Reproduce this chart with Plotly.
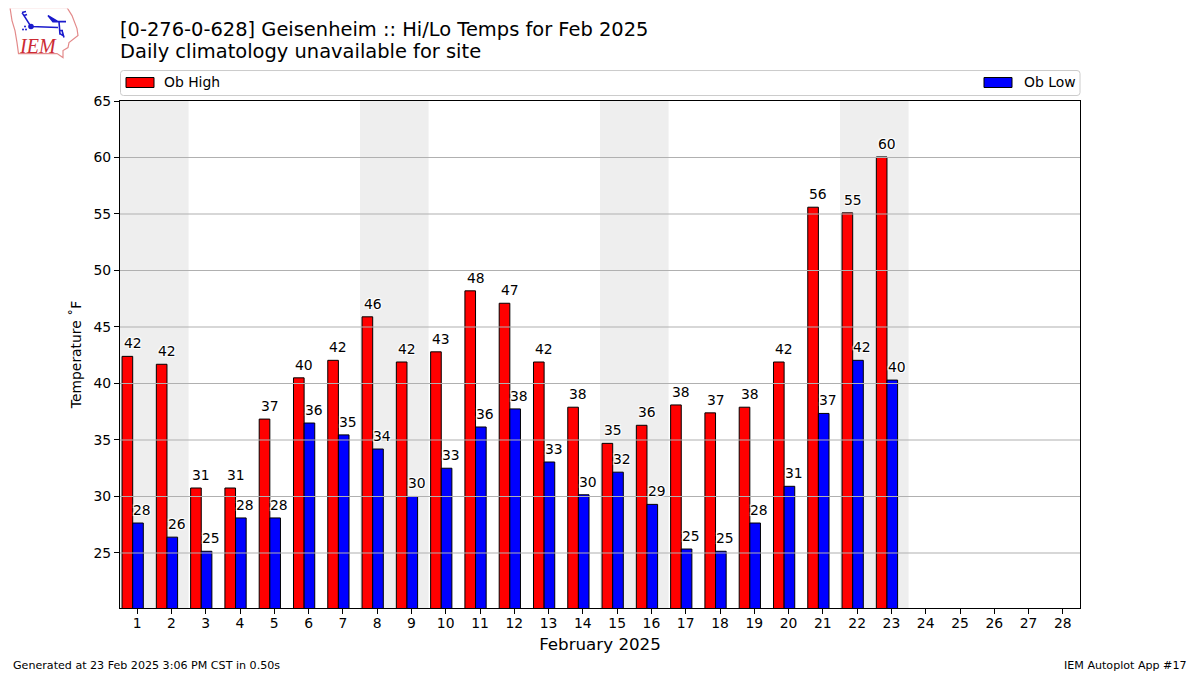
import base64
import plotly.graph_objects as go

days = list(range(1, 24))
all_days = list(range(1, 29))
highs = [42.4, 41.7, 30.75, 30.75, 36.85, 40.5, 42.05, 45.9, 41.9, 42.8, 48.2, 47.1, 41.9, 37.9, 34.7, 36.3, 38.1, 37.4, 37.9, 41.9, 55.6, 55.1, 60.05]
lows = [27.65, 26.4, 25.15, 28.1, 28.1, 36.5, 35.45, 34.2, 30.0, 32.5, 36.15, 37.75, 33.05, 30.15, 32.15, 29.3, 25.35, 25.15, 27.65, 30.9, 37.35, 42.05, 40.3]
high_labels = [42, 42, 31, 31, 37, 40, 42, 46, 42, 43, 48, 47, 42, 38, 35, 36, 38, 37, 38, 42, 56, 55, 60]
low_labels = [28, 26, 25, 28, 28, 36, 35, 34, 30, 33, 36, 38, 33, 30, 32, 29, 25, 25, 28, 31, 37, 42, 40]
weekends = [(1, 2), (8, 9), (15, 16), (22, 23)]
y_ticks = [25, 30, 35, 40, 45, 50, 55, 60, 65]

# The page body keeps its 8 px margin, so the figure is placed to reach the window's edges from inside it.
OFF = 8
W, H = 1200 - OFF, 675 - OFF
L, R, T, B = 120, 1080, 100.5, 608  # plot area in window pixels
PW, PH = R - L, B - T
FONT = "DejaVu Sans"


def px(x):
    return (x - L) / PW


def py(y):
    return (B - y) / PH


def rounded_box(x0, y0, x1, y1, r):
    return (f"M {px(x0 + r)} {py(y0)} L {px(x1 - r)} {py(y0)} Q {px(x1)} {py(y0)} {px(x1)} {py(y0 + r)} "
            f"L {px(x1)} {py(y1 - r)} Q {px(x1)} {py(y1)} {px(x1 - r)} {py(y1)} "
            f"L {px(x0 + r)} {py(y1)} Q {px(x0)} {py(y1)} {px(x0)} {py(y1 - r)} "
            f"L {px(x0)} {py(y0 + r)} Q {px(x0)} {py(y0)} {px(x0 + r)} {py(y0)} Z")


fig = go.Figure()
fig.add_bar(x=days, y=highs, name="Ob High", width=0.31, offset=-0.44, showlegend=False,
            marker=dict(color="#ff0000", line=dict(color="#000000", width=1)))
fig.add_bar(x=days, y=lows, name="Ob Low", width=0.31, offset=-0.13, showlegend=False,
            marker=dict(color="#0000ff", line=dict(color="#000000", width=1)))

shapes = []
for a, b in weekends:
    shapes.append(dict(type="rect", xref="x", yref="paper", x0=a - 0.5, x1=b + 0.5, y0=0, y1=1,
                       fillcolor="#eeeeee", line_width=0, layer="below"))
for t in y_ticks:
    if t < 65:
        shapes.append(dict(type="line", xref="paper", yref="y", x0=0, x1=1, y0=t, y1=t,
                           line=dict(color="#b0b0b0", width=1.1), layer="above"))

# legend frame and swatches
shapes.append(dict(type="path", xref="paper", yref="paper", path=rounded_box(120.5, 70, 1080, 95, 3),
                   line=dict(color="#cccccc", width=1), fillcolor="#ffffff", layer="above"))
for x0, c in [(126, "#ff0000"), (984, "#0000ff")]:
    shapes.append(dict(type="rect", xref="paper", yref="paper", x0=px(x0), x1=px(x0 + 28), y0=py(77), y1=py(87),
                       line=dict(color="#000000", width=1), fillcolor=c, layer="above"))

halo = "-1px -1px 1px #fff, 1px -1px 1px #fff, -1px 1px 1px #fff, 1px 1px 1px #fff"
annotations = []
for d, v, s in zip(days, highs, high_labels):
    annotations.append(dict(x=d - 0.13, y=v, xref="x", yref="y", text=str(s), showarrow=False,
                            yanchor="bottom", xanchor="center", yshift=3,
                            font=dict(family=FONT, size=13.9, color="#000", shadow=halo)))
for d, v, s in zip(days, lows, low_labels):
    annotations.append(dict(x=d + 0.15, y=v, xref="x", yref="y", text=str(s), showarrow=False,
                            yanchor="bottom", xanchor="center", yshift=3,
                            font=dict(family=FONT, size=13.9, color="#000", shadow=halo)))
annotations += [
    dict(xref="paper", yref="paper", x=px(120), y=py(51), text="Daily climatology unavailable for site",
         showarrow=False, xanchor="left", yanchor="middle", xshift=-2, font=dict(family=FONT, size=19.45, color="#000")),
    dict(xref="paper", yref="paper", x=px(12), y=py(666), text="Generated at 23 Feb 2025 3:06 PM CST in 0.50s",
         showarrow=False, xanchor="left", yanchor="middle", xshift=-1, font=dict(family=FONT, size=11.1, color="#000")),
    dict(xref="paper", yref="paper", x=px(1188), y=py(666), text="IEM Autoplot App #17",
         showarrow=False, xanchor="right", yanchor="middle", xshift=1, font=dict(family=FONT, size=11.1, color="#000")),
    dict(xref="paper", yref="paper", x=px(37.5), y=py(45), text="<i>IEM</i>", showarrow=False,
         xanchor="center", yanchor="middle", font=dict(family="Liberation Serif", size=20, color="#cc2a33")),
    dict(xref="paper", yref="paper", x=px(164), y=py(81), text="Ob High", showarrow=False,
         xanchor="left", yanchor="middle", xshift=-2, font=dict(family=FONT, size=13.9, color="#000")),
    dict(xref="paper", yref="paper", x=px(1024), y=py(81), text="Ob Low", showarrow=False,
         xanchor="left", yanchor="middle", xshift=-2, font=dict(family=FONT, size=13.9, color="#000")),
]

svg = """<svg xmlns="http://www.w3.org/2000/svg" width="82" height="57" viewBox="8 8 82 57">
<path d="M10 7 L67 7 L72 15 L77 28 L78 35 L69 42 L68 47 L63 50 L63 57 L57 53 L18.5 53 L17 42 L15 30 L12 20 Z" fill="none" stroke="#e38b8b" stroke-width="1.2"/>
<path d="M31 26 L58 27 M31 26 L24 15 M24 15 L22 12 M22 12 L26 11 M24 15 L27 14 M58 21 L66 21 M48 15 L58 21 L53 21 Z M59 21 L60 34 M60 30 L63 30 M60 33 L63 35 M62 30 L64 37" fill="#1a1acc" stroke="#1a1acc" stroke-width="1.6"/>
<circle cx="31" cy="26" r="2.8" fill="#1a1acc"/><circle cx="25" cy="26" r="1" fill="#1a1acc"/><circle cx="23" cy="29" r="1" fill="#1a1acc"/><circle cx="26" cy="29" r="1" fill="#1a1acc"/>
</svg>"""
logo = "data:image/svg+xml;base64," + base64.b64encode(svg.encode()).decode()

fig.update_layout(
    width=W, height=H, autosize=False,
    margin=dict(l=L - OFF, r=W + OFF - R, t=T - OFF, b=H + OFF - B, pad=0),
    paper_bgcolor="#ffffff", plot_bgcolor="#ffffff",
    font=dict(family=FONT, size=13.9, color="#000"),
    barmode="overlay",
    showlegend=False,
    title=dict(text="[0-276-0-628] Geisenheim :: Hi/Lo Temps for Feb 2025", xref="paper", yref="container",
               x=0, xanchor="left", y=1 - (29 - OFF) / H, yanchor="middle", font=dict(family=FONT, size=19.45, color="#000")),
    xaxis=dict(range=[0.5, 28.5], tickmode="array", tickvals=all_days, ticktext=[str(d) for d in all_days],
               ticks="outside", ticklen=5, tickwidth=1.1, tickcolor="#000", showline=True, linecolor="#000",
               linewidth=1.1, mirror=True, showgrid=False, zeroline=False, ticklabelstandoff=-3,
               title=dict(text="February 2025", font=dict(family=FONT, size=16.7), standoff=8)),
    yaxis=dict(range=[20.13, 65], tickmode="array", tickvals=y_ticks, ticktext=[str(t) for t in y_ticks],
               ticks="outside", ticklen=5, tickwidth=1.1, tickcolor="#000", showline=True, linecolor="#000",
               linewidth=1.1, mirror=True, showgrid=False, zeroline=False,
               title=dict(text="Temperature ˚F", font=dict(family=FONT, size=13.9), standoff=8)),
    shapes=shapes,
    annotations=annotations,
    images=[dict(source=logo, xref="paper", yref="paper", x=px(OFF), y=py(OFF), sizex=82 / PW, sizey=57 / PH,
                 xanchor="left", yanchor="top", layer="above", sizing="stretch")],
)
fig.write_html("out.html")
